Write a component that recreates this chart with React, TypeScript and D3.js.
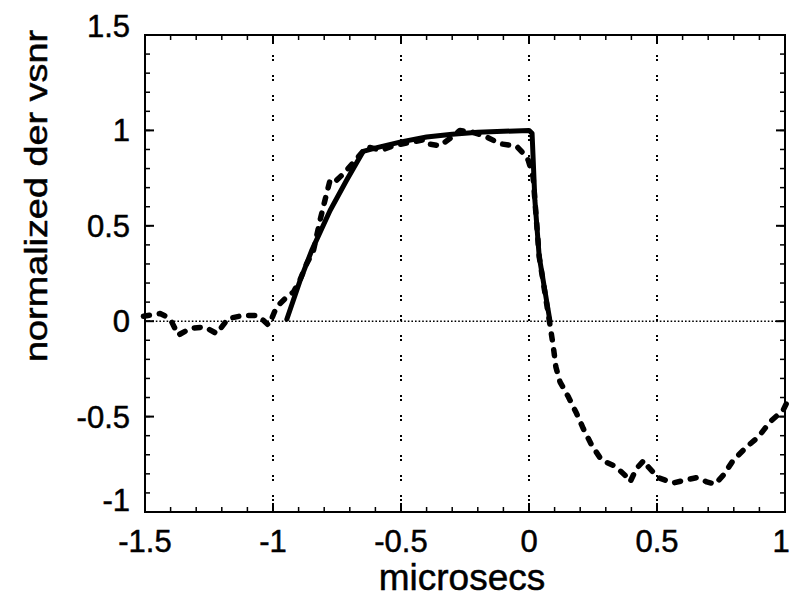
import React from "react";
import * as d3 from "d3";

const W = 790;
const H = 597;

const xMajorTicks = [-1.5, -1, -0.5, 0, 0.5, 1];
const yMajorTicks = [-1, -0.5, 0, 0.5, 1, 1.5];
const xGridLines = [-1, -0.5, 0, 0.5];
const xTickLabels = ["-1.5", "-1", "-0.5", "0", "0.5", "1"];
const yTickLabels = ["-1", "-0.5", "0", "0.5", "1", "1.5"];

// solid curve
const solidX = [-0.946, -0.895, -0.849, -0.777, -0.712, -0.648, -0.594, -0.5, -0.4, -0.3, -0.2, -0.1, 0.0, 0.012, 0.023, 0.04, 0.082];
const solidY = [0.01, 0.21, 0.37, 0.58, 0.74, 0.89, 0.91, 0.94, 0.965, 0.98, 0.99, 0.995, 1.0, 0.985, 0.634, 0.337, 0.0];

// dashed curve
const dashX = [-1.506, -1.441, -1.41, -1.396, -1.37, -1.324, -1.266, -1.22, -1.2, -1.175, -1.116, -1.064, -1.038, -1.018, -1.005, -0.986, -0.946, -0.92, -0.895, -0.869, -0.842, -0.816, -0.797, -0.777, -0.758, -0.72, -0.68, -0.634, -0.576, -0.53, -0.414, -0.4, -0.348, -0.309, -0.27, -0.219, -0.166, -0.113, -0.048, -0.016, -0.003, 0.016, 0.023, 0.04, 0.082, 0.095, 0.105, 0.121, 0.154, 0.186, 0.212, 0.245, 0.284, 0.336, 0.375, 0.395, 0.42, 0.449, 0.466, 0.505, 0.564, 0.61, 0.655, 0.694, 0.727, 0.759, 0.798, 0.85, 0.896, 0.941, 0.993, 1.006];
const dashY = [0.026, 0.04, 0.02, -0.003, -0.073, -0.038, -0.03, -0.065, -0.03, 0.014, 0.03, 0.03, 0.005, -0.02, 0.014, 0.075, 0.127, 0.153, 0.215, 0.3, 0.37, 0.53, 0.634, 0.74, 0.73, 0.78, 0.84, 0.914, 0.896, 0.92, 0.95, 0.93, 0.92, 0.957, 1.0, 0.99, 0.966, 0.93, 0.917, 0.87, 0.844, 0.756, 0.634, 0.337, -0.02, -0.134, -0.24, -0.318, -0.397, -0.484, -0.563, -0.65, -0.729, -0.76, -0.807, -0.842, -0.772, -0.729, -0.764, -0.82, -0.848, -0.833, -0.82, -0.842, -0.854, -0.807, -0.729, -0.659, -0.606, -0.528, -0.466, -0.43];

const FONT = "'Liberation Sans', Arial, Helvetica, sans-serif";

export default function App() {
  const x = d3.scaleLinear().domain([-1.5, 1]).range([145, 785]);
  const y = d3.scaleLinear().domain([-1, 1.5]).range([512, 35]);
  const [x0, x1] = x.range();
  const [y0, y1] = y.range();

  const line = d3
    .line<[number, number]>()
    .x((d) => x(d[0]))
    .y((d) => y(d[1]))
    .curve(d3.curveLinear);

  const solidPts = solidX.map((v, i) => [v, solidY[i]] as [number, number]);
  const dashPts = dashX.map((v, i) => [v, dashY[i]] as [number, number]);

  const xMinor = d3.range(-1.5, 1.0001, 0.1).map((v) => Math.round(v * 10) / 10);
  const yMinor = d3.range(-1, 1.5001, 0.1).map((v) => Math.round(v * 10) / 10);

  const MAJ = 9;
  const MIN = 5;
  const TS = 0.5; // text stroke to mimic the scanned weight

  return (
    <svg
      width={W}
      height={H}
      style={{ position: "absolute", left: 0, top: 0, background: "#fff" }}
      fontFamily={FONT}
    >
      <rect x={0} y={0} width={W} height={H} fill="#fff" />
      {/* grid */}
      {xGridLines.map((v) => (
        <line
          key={"g" + v}
          x1={x(v)}
          x2={x(v)}
          y1={y1}
          y2={y0}
          stroke="#000"
          strokeWidth={2}
          strokeDasharray="2,2,2,14"
        />
      ))}
      <line x1={x0} x2={x1} y1={y(0)} y2={y(0)} stroke="#000" strokeWidth={1.6} strokeDasharray="1.6,2" />

      {/* minor ticks */}
      {xMinor.map((v) => (
        <g key={"xm" + v}>
          <line x1={x(v)} x2={x(v)} y1={y0} y2={y0 - MIN} stroke="#000" strokeWidth={1.5} />
          <line x1={x(v)} x2={x(v)} y1={y1} y2={y1 + MIN} stroke="#000" strokeWidth={1.5} />
        </g>
      ))}
      {yMinor.map((v) => (
        <g key={"ym" + v}>
          <line x1={x0} x2={x0 + MIN} y1={y(v)} y2={y(v)} stroke="#000" strokeWidth={1.5} />
          <line x1={x1} x2={x1 - MIN} y1={y(v)} y2={y(v)} stroke="#000" strokeWidth={1.5} />
        </g>
      ))}
      {/* major ticks */}
      {xMajorTicks.map((v) => (
        <g key={"xM" + v}>
          <line x1={x(v)} x2={x(v)} y1={y0} y2={y0 - MAJ} stroke="#000" strokeWidth={2} />
          <line x1={x(v)} x2={x(v)} y1={y1} y2={y1 + MAJ} stroke="#000" strokeWidth={2} />
        </g>
      ))}
      {yMajorTicks.map((v) => (
        <g key={"yM" + v}>
          <line x1={x0} x2={x0 + MAJ} y1={y(v)} y2={y(v)} stroke="#000" strokeWidth={2} />
          <line x1={x1} x2={x1 - MAJ} y1={y(v)} y2={y(v)} stroke="#000" strokeWidth={2} />
        </g>
      ))}

      {/* frame */}
      <rect x={x0} y={y1} width={x1 - x0} height={y0 - y1} fill="none" stroke="#000" strokeWidth={2} />

      {/* data */}
      <path d={line(solidPts) || ""} fill="none" stroke="#000" strokeWidth={5} strokeLinejoin="round" strokeLinecap="round" />
      <path
        d={line(dashPts) || ""}
        fill="none"
        stroke="#000"
        strokeWidth={5.5}
        strokeDasharray="6,10"
        strokeLinecap="round"
        strokeLinejoin="round"
      />

      {/* tick labels */}
      {xMajorTicks.map((v, i) => (
        <text
          key={"xl" + v}
          x={v === 1 ? x(v) - 4 : x(v)}
          y={552}
          textAnchor="middle"
          fontSize={31}
          fill="#000"
          stroke="#000"
          strokeWidth={TS}
        >
          {xTickLabels[i]}
        </text>
      ))}
      {yMajorTicks.map((v, i) => {
        const shift = v === 1.5 ? -9 : v === -1 ? -12 : 0;
        return (
          <text
            key={"yl" + v}
            x={130}
            y={y(v) + 11 + shift}
            textAnchor="end"
            fontSize={31}
            fill="#000"
            stroke="#000"
            strokeWidth={TS}
          >
            {yTickLabels[i]}
          </text>
        );
      })}

      {/* axis labels */}
      <text x={462} y={590} textAnchor="middle" fontSize={37} fill="#000" stroke="#000" strokeWidth={TS}>
        microsecs
      </text>
      <text
        transform={`translate(47,196) rotate(-90)`}
        textAnchor="middle"
        fontSize={31}
        textLength={332}
        lengthAdjust="spacingAndGlyphs"
        fill="#000"
        stroke="#000"
        strokeWidth={TS}
      >
        normalized der vsnr
      </text>
    </svg>
  );
}
